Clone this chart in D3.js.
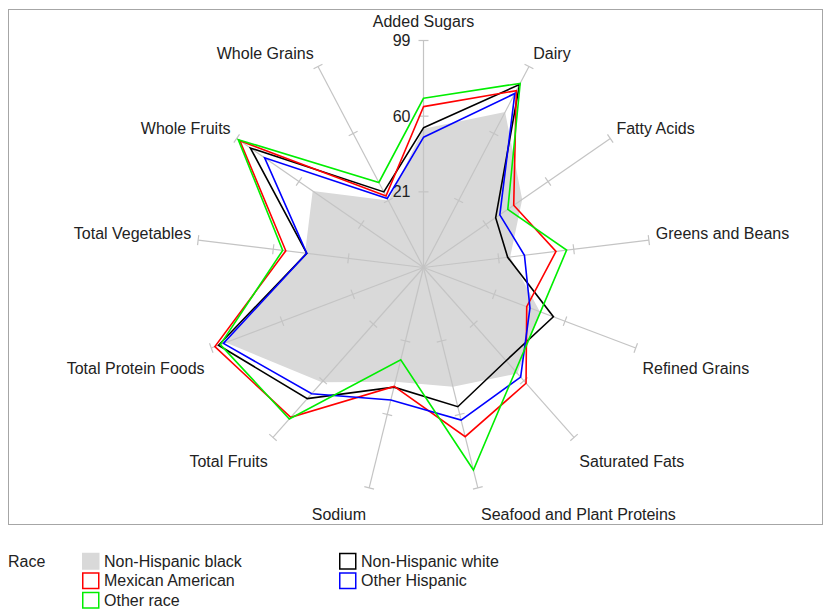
<!DOCTYPE html>

<head>
    <title>HEI components by race</title>
    <meta charset="utf-8" />
</head>

<style>
    body {
        margin: 0;
        background-color: #FFFFFF;
    }

    text {
        font-family: "Liberation Sans", Arial, sans-serif;
        font-size: 16px;
        fill: #222222;
    }

    .spoke line {
        stroke: #c4c4c4;
        stroke-width: 1.2px;
    }

    .series {
        fill: none;
        stroke-width: 1.6px;
        stroke-linejoin: miter;
    }
</style>

<body>
    <svg id="radar" width="826" height="610"></svg>
    <script src="https://d3js.org/d3.v7.min.js"></script>

    <script>
        // spokes, clockwise from the top
        var categories = ["Added Sugars", "Dairy", "Fatty Acids", "Greens and Beans", "Refined Grains",
            "Saturated Fats", "Seafood and Plant Proteins", "Sodium", "Total Fruits",
            "Total Protein Foods", "Total Vegetables", "Whole Fruits", "Whole Grains"];

        var tickValues = [21, 60, 99];

        var nhBlack = [53.5, 72.5, 43.8, 27, 46.2, 55, 45.3, 42.6, 61, 91, 43.5, 51.4, 21];
        var nhWhite = [54, 88.5, 27.2, 25.7, 53.6, 46.2, 55.9, 45.5, 72.3, 95, 42.6, 90.4, 26];
        var mexAmerican = [64.9, 84.9, 38.5, 50.8, 38.9, 61.7, 71.8, 45.1, 85.2, 97, 53.5, 97, 23.6];
        var otherHispanic = [49.1, 83.3, 29.8, 34.4, 40.7, 57.5, 63, 52.3, 68.9, 92.3, 42.6, 81.5, 22.2];
        var otherRace = [69.2, 89.2, 34.8, 56.3, 46.5, 53.4, 89.5, 31, 86.3, 94, 55.1, 98, 31.5];

        var groupNames = ["Non-Hispanic black", "Non-Hispanic white", "Mexican American", "Other Hispanic", "Other race"];

        var series = [
            { name: groupNames[0], values: nhBlack, color: "#d9d9d9", filled: true },
            { name: groupNames[1], values: nhWhite, color: "#000000" },
            { name: groupNames[2], values: mexAmerican, color: "#ff0000" },
            { name: groupNames[3], values: otherHispanic, color: "#0000ff" },
            { name: groupNames[4], values: otherRace, color: "#00ee00" }
        ];

        var cx = 423.5,
            cy = 267.5;

        var svg = d3.select("#radar");

        // frame
        svg.append("rect")
            .attr("x", 8.5)
            .attr("y", 9.5)
            .attr("width", 814)
            .attr("height", 515)
            .attr("fill", "none")
            .attr("stroke", "#a6a6a6");

        var r = d3.scaleLinear().domain([-18, 99]).range([0, 227]);
        var step = 2 * Math.PI / categories.length;

        var chart = svg.append("g")
            .attr("transform", "translate(" + cx + "," + cy + ")");

        var radarLine = d3.lineRadial()
            .angle(function(d, i) { return i * step; })
            .radius(function(d) { return r(d); })
            .curve(d3.curveLinearClosed);

        // filled series goes under the spokes
        chart.append("path")
            .attr("d", radarLine(series[0].values))
            .attr("fill", series[0].color)
            .attr("stroke", "none");

        var spokes = chart.selectAll(".spoke")
            .data(categories)
            .enter().append("g")
            .attr("class", "spoke")
            .attr("transform", function(d, i) { return "rotate(" + (i * 360 / categories.length) + ")"; });

        spokes.append("line")
            .attr("x1", 0).attr("y1", 0)
            .attr("x2", 0).attr("y2", -r(99));

        spokes.selectAll(".tick")
            .data(tickValues)
            .enter().append("line")
            .attr("class", "tick")
            .attr("x1", -5).attr("x2", 5)
            .attr("y1", function(d) { return -r(d); })
            .attr("y2", function(d) { return -r(d); });

        // tick labels on the first spoke only
        chart.selectAll(".tickLabel")
            .data(tickValues)
            .enter().append("text")
            .attr("class", "tickLabel")
            .attr("x", -13)
            .attr("y", function(d) { return -r(d); })
            .attr("dy", "0.35em")
            .attr("text-anchor", "end")
            .text(function(d) { return d; });

        // spoke labels
        chart.selectAll(".catLabel")
            .data(categories)
            .enter().append("text")
            .attr("class", "catLabel")
            .each(function(d, i) {
                var a = i * step,
                    s = Math.sin(a),
                    c = Math.cos(a);
                var ex = s * r(99),
                    ey = -c * r(99);
                var anchor = Math.abs(s) < 0.01 ? "middle" : (s > 0 ? "start" : "end");
                var dx = Math.abs(s) < 0.01 ? 0 : (s > 0 ? 1 : -1) * (2 + 5 * Math.abs(s));
                var dy;
                if (Math.abs(s) < 0.01) dy = -19.5;
                else if (c > 0) dy = -6 - 8 * c;
                else dy = 17 + 10 * Math.abs(c);
                d3.select(this)
                    .attr("x", ex + dx)
                    .attr("y", ey + dy)
                    .attr("dy", "0.35em")
                    .attr("text-anchor", anchor)
                    .text(d);
            });

        // outline series
        chart.selectAll(".series")
            .data(series.slice(1))
            .enter().append("path")
            .attr("class", "series")
            .attr("d", function(d) { return radarLine(d.values); })
            .attr("stroke", function(d) { return d.color; });

        // legend
        var legend = svg.append("g");

        legend.append("text")
            .attr("x", 8)
            .attr("y", 561)
            .attr("dy", "0.35em")
            .text("Race");

        var legendPos = [[0, 0], [1, 0], [0, 1], [1, 1], [0, 2]];

        var items = legend.selectAll(".item")
            .data(series)
            .enter().append("g")
            .attr("class", "item")
            .attr("transform", function(d, i) {
                return "translate(" + (82 + legendPos[i][0] * 257) + "," + (561 + legendPos[i][1] * 19.5) + ")";
            });

        items.append("rect")
            .attr("x", 0.75)
            .attr("y", -7.5)
            .attr("width", 16)
            .attr("height", 15.5)
            .attr("fill", function(d) { return d.filled ? d.color : "#ffffff"; })
            .attr("stroke", function(d) { return d.filled ? d.color : d.color; })
            .attr("stroke-width", 1.5);

        items.append("text")
            .attr("x", 22)
            .attr("y", 0)
            .attr("dy", "0.35em")
            .text(function(d) { return d.name; });
    </script>

</body>
